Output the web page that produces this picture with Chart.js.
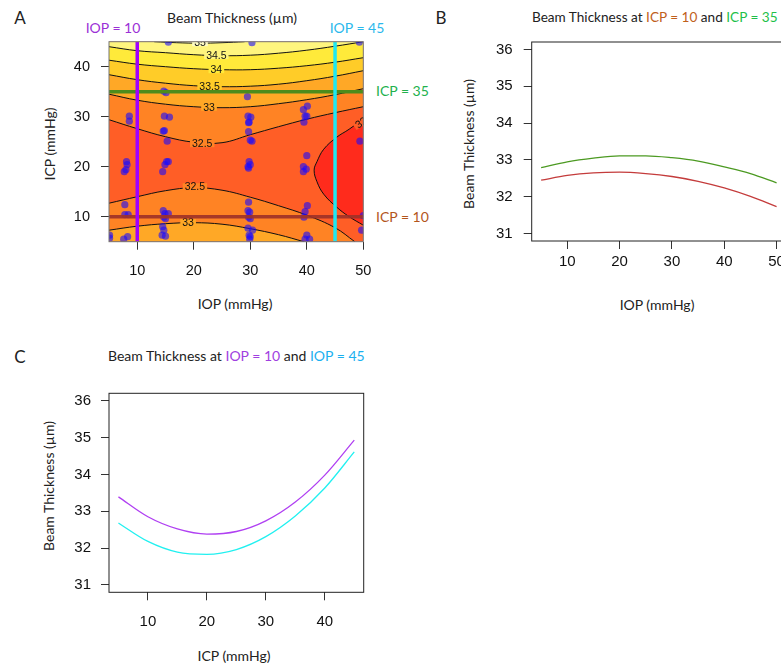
<!DOCTYPE html>
<html>
<head>
<meta charset="utf-8">
<script src="https://cdn.jsdelivr.net/npm/chart.js@4.4.0/dist/chart.umd.min.js"></script>
<style>
    html, body { margin: 0; padding: 0; background: #fff; overflow: hidden; width: 781px; height: 663px; }
    canvas { position: absolute; }
    .t { position: absolute; font-family: Lato, "Open Sans", sans-serif; font-size: 14px; color: #222; white-space: nowrap; transform: translate(-50%, -50%); }
    .l { transform: translate(0, -50%); }
    .v { transform: translate(-50%, -50%) rotate(-90deg); }
    .p { font-size: 17px; }
</style>
</head>
<body>
<!-- panel A -->
<div class="t p" style="left:20px;top:17px">A</div>
<div class="t" style="left:232px;top:17px">Beam Thickness (&micro;m)</div>
<div class="t" style="left:113px;top:27px;color:#9b30d6">IOP = 10</div>
<div class="t" style="left:357px;top:27px;color:#2ab8ec">IOP = 45</div>
<div class="t l" style="left:376px;top:90px;color:#22b14c">ICP = 35</div>
<div class="t l" style="left:376px;top:216px;color:#b3561c">ICP = 10</div>
<div class="t" style="left:235px;top:303px">IOP (mmHg)</div>
<div class="t v" style="left:49px;top:144px">ICP (mmHg)</div>
<canvas id="chartA" width="420" height="320" style="left:0;top:0"></canvas>

<!-- panel B -->
<div class="t p" style="left:441px;top:17px">B</div>
<div class="t l" style="left:532px;top:17px;font-size:13.6px">Beam Thickness at <span style="color:#c0601c">ICP = 10</span> and <span style="color:#1fbf4a">ICP = 35</span></div>
<div class="t" style="left:657px;top:304px">IOP (mmHg)</div>
<div class="t v" style="left:468px;top:144px">Beam Thickness (&micro;m)</div>
<canvas id="chartB" width="360" height="320" style="left:440px;top:0"></canvas>

<!-- panel C -->
<div class="t p" style="left:20px;top:356px">C</div>
<div class="t l" style="left:108px;top:355px">Beam Thickness at <span style="color:#a040e0">IOP = 10</span> and <span style="color:#1ab0f0">IOP = 45</span></div>
<div class="t" style="left:234px;top:655px">ICP (mmHg)</div>
<div class="t v" style="left:48px;top:486px">Beam Thickness (&micro;m)</div>
<canvas id="chartC" width="420" height="303" style="left:0;top:360px"></canvas>

<script>
// tick values
const iopTicks = [10, 20, 30, 40, 50];
const icpTicksA = [10, 20, 30, 40];
const icpTicksC = [10, 20, 30, 40];
const btTicks = [31, 32, 33, 34, 35, 36];

// panel B: beam thickness along IOP at two ICP levels
const iopGrid = [5, 10, 15, 20, 25, 30, 35, 40, 45, 50];
const btIcp10 = [32.45, 32.58, 32.65, 32.67, 32.63, 32.55, 32.42, 32.24, 32.01, 31.73];
const btIcp35 = [32.79, 32.95, 33.05, 33.11, 33.11, 33.06, 32.97, 32.81, 32.63, 32.38];

// panel C: beam thickness along ICP at two IOP levels
const icpGrid = [5, 10, 15, 20, 25, 30, 35, 40, 45];
const btIop10 = [33.39, 32.85, 32.52, 32.38, 32.45, 32.74, 33.25, 33.98, 34.93];
const btIop45 = [32.68, 32.18, 31.89, 31.83, 31.96, 32.31, 32.87, 33.63, 34.61];

// panel A contours: ICP where each level is crossed, at the iopGrid values
const c32_5up = [29.4, 27.6, 26.0, 24.9, 24.8, 26.4, 28.0, 29.5, 30.8, 32.0];
const c33up = [34.5, 33.3, 32.5, 32.0, 31.8, 32.0, 32.6, 33.4, 34.4, 35.6];
const c33_5 = [38.4, 37.4, 36.7, 36.2, 36.0, 36.1, 36.5, 37.2, 38.1, 39.2];
const c34 = [41.3, 40.5, 40.0, 39.6, 39.4, 39.4, 39.7, 40.2, 40.9, 41.8];
const c34_5 = [44.0, 43.2, 42.8, 42.4, 42.2, 42.3, 42.7, 43.3, 44.1, 45.0];
// contours given as [IOP, ICP] pairs
const c35 = [[13, 45], [17, 44.8], [21, 44.7], [25, 44.8], [29, 45]];
const c32_5lo = [[5, 12.7], [10, 14.0], [15, 15.2], [20, 15.8], [25, 15.3], [30, 13.9], [35, 12.2], [40, 10.3], [45, 7.8], [48.5, 5]];
const c33lo = [[5, 7.3], [10, 8.1], [15, 8.6], [20, 8.8], [25, 8.5], [30, 7.6], [35, 6.4], [39.5, 5]];
const c32 = [[50, 29.6], [47.5, 27.5], [45.3, 25.9], [43, 23.5], [41.8, 21], [41.3, 19.3], [41.8, 17], [43, 14.5], [45.3, 11.9], [47.5, 10], [50, 8.3]];
// contour labels [IOP, ICP, level]
const contourLabels = [[21.1, 44.8, 35], [24, 42.2, 34.5], [24, 39.4, 34], [22.8, 36.1, 33.5], [22.7, 31.9, 33],
    [21.5, 24.6, 32.5], [20.2, 16.0, 32.5], [19, 8.8, 33], [49.6, 28.8, 32]];

// observed eyes [IOP, ICP]
const obsPoints = [
    [15.5, 44.9], [30.3, 44.8], [49.3, 44.9],
    [14.7, 35.1], [15.1, 34.8], [29.5, 34.0],
    [8.6, 30.1], [8.6, 29.1], [14.8, 30.1], [15.7, 29.9], [29.6, 30.1], [30.1, 29.9], [29.8, 28.9],
    [39.4, 31.4], [40.1, 32.1], [39.7, 30.1], [40.0, 30.1], [39.5, 28.9],
    [14.6, 27.1], [14.8, 27.2], [15.3, 25.1], [29.7, 28.8], [29.7, 27.0], [30.3, 25.1], [30.0, 25.3], [49.4, 25.1],
    [8.1, 21.0], [8.2, 20.4], [8.0, 19.4], [7.7, 19.0],
    [15.2, 21.0], [15.5, 21.0], [14.9, 20.4], [14.5, 19.0],
    [29.8, 21.0], [30.0, 20.4], [29.6, 20.0], [29.7, 19.7],
    [40.0, 22.2], [39.4, 20.0], [39.9, 19.5], [39.4, 19.0],
    [7.8, 12.4], [7.8, 10.4], [8.4, 10.4],
    [14.6, 11.2], [14.9, 10.6], [15.5, 10.6], [14.7, 9.9], [15.0, 9.6],
    [29.7, 12.9], [29.6, 11.2], [29.9, 10.9], [29.7, 9.9], [30.0, 9.6],
    [40.1, 12.2], [39.7, 11.0], [39.5, 9.9], [50.0, 10.2],
    [14.5, 8.0], [14.7, 7.3], [14.4, 6.3], [15.0, 6.1],
    [29.6, 7.7], [30.4, 7.3], [29.8, 6.3], [30.0, 6.0], [29.9, 5.5],
    [40.0, 6.3], [39.7, 5.5], [40.5, 5.5], [49.7, 7.3],
    [5.1, 6.3], [5.1, 5.7], [8.3, 6.0], [7.6, 5.5]
];

// reference slices drawn on panel A
const refIop = [10, 45];
const refIcp = [35, 10];
const icpRange = [5, 45];
const iopRange = [5, 50];

const bandColors = {
    31.5: '#ff2b1c', 32: '#ff5e26', 32.5: '#ff8324', 33: '#ffa826',
    33.5: '#ffcc28', 34: '#ffea3a', 34.5: '#fff57e', 35: '#fffcc4'
};

const xy = (xs, ys) => xs.map((x, i) => ({x: x, y: ys[i]}));
const pairs = a => a.map(p => ({x: p[0], y: p[1]}));

function scale(min, max, ticks, size, pad, fontSize, horizontal) {
    return {
        type: 'linear', min: min, max: max,
        grid: { drawOnChartArea: false, tickLength: 8, tickColor: '#333', tickWidth: 1 },
        border: { display: false },
        ticks: { padding: pad, color: '#111', font: { family: 'Liberation Sans', size: fontSize } },
        afterBuildTicks: s => { s.ticks = ticks.map(v => ({ value: v })); },
        afterFit: s => {
            if (horizontal) s.height = size; else s.width = size;
            s.paddingLeft = s.paddingRight = s.paddingTop = s.paddingBottom = 0;
        }
    };
}

const frame = color => ({
    id: 'frame',
    afterDatasetsDraw(chart) {
        const {ctx, chartArea: a} = chart;
        ctx.save();
        ctx.strokeStyle = color;
        ctx.lineWidth = 1;
        ctx.strokeRect(a.left, a.top, a.width, a.height);
        ctx.restore();
    }
});

const baseOptions = (xs, ys, padding) => ({
    responsive: false, animation: false, events: [],
    devicePixelRatio: 1,
    layout: { padding: padding },
    plugins: { legend: { display: false }, tooltip: { enabled: false } },
    scales: { x: xs, y: ys }
});

// ---------- panel A ----------
function contour(data, fill, level, order) {
    return {
        data: data, fill: fill, backgroundColor: bandColors[level], borderColor: '#111',
        borderWidth: 1, pointRadius: 0, tension: 0.4, order: order
    };
}

const heatBase = {
    id: 'heatBase',
    beforeDatasetsDraw(chart) {
        const {ctx, chartArea: a} = chart;
        ctx.save();
        ctx.fillStyle = bandColors[32];
        ctx.fillRect(a.left, a.top, a.width, a.height);
        ctx.restore();
    }
};

const contourText = {
    id: 'contourText',
    beforeDatasetDraw(chart, args) {
        if (args.meta.label !== 'obs') return;
        const {ctx, chartArea: a, scales: {x, y}} = chart;
        ctx.save();
        ctx.beginPath();
        ctx.rect(a.left, a.top, a.width, a.height);
        ctx.clip();
        ctx.font = '10.5px "Liberation Sans"';
        ctx.textAlign = 'center';
        ctx.textBaseline = 'middle';
        contourLabels.forEach(([iop, icp, level]) => {
            const txt = String(level);
            const w = ctx.measureText(txt).width + 4;
            ctx.save();
            ctx.translate(x.getPixelForValue(iop), y.getPixelForValue(icp));
            if (level === 32) ctx.rotate(-0.6);
            ctx.fillStyle = bandColors[level];
            ctx.fillRect(-w / 2, -3.5, w, 7);
            ctx.fillStyle = '#111';
            ctx.fillText(txt, 0, 0.5);
            ctx.restore();
        });
        ctx.restore();
    }
};

new Chart(document.getElementById('chartA'), {
    type: 'line',
    data: {
        datasets: [
            contour(xy(iopGrid, c32_5up), 'end', 32.5, 20),
            contour(xy(iopGrid, c33up), 'end', 33, 19),
            contour(xy(iopGrid, c33_5), 'end', 33.5, 18),
            contour(xy(iopGrid, c34), 'end', 34, 17),
            contour(xy(iopGrid, c34_5), 'end', 34.5, 16),
            contour(pairs(c35), 'end', 35, 15),
            contour(pairs(c32_5lo), 'start', 32.5, 20),
            contour(pairs(c33lo), 'start', 33, 19),
            contour(pairs(c32), 'shape', 31.5, 20),
            {
                label: 'obs', data: pairs(obsPoints), showLine: false, pointRadius: 3.6,
                pointBackgroundColor: 'rgba(25,10,255,0.6)', pointBorderWidth: 0, order: 2
            },
            { data: xy(iopRange, [refIcp[0], refIcp[0]]), borderColor: '#4d8c1c', borderWidth: 3.5, pointRadius: 0, order: 1 },
            { data: xy(iopRange, [refIcp[1], refIcp[1]]), borderColor: 'rgba(160,50,40,0.92)', borderWidth: 3.5, pointRadius: 0, order: 1 },
            { data: xy([refIop[0], refIop[0]], icpRange), borderColor: '#a000ff', borderWidth: 3.5, pointRadius: 0, order: 0 },
            { data: xy([refIop[1], refIop[1]], icpRange), borderColor: '#1ee8f2', borderWidth: 3.5, pointRadius: 0, order: 0 }
        ]
    },
    options: baseOptions(
        scale(5, 50, iopTicks, 78.3, 13, 14.5, true),
        scale(5, 45, icpTicksA, 109, 11, 14.5, false),
        { left: 0, top: 41.7, right: 56.7, bottom: 0 }
    ),
    plugins: [heatBase, contourText, frame('#777')]
});

// ---------- panel B ----------
const curve = (data, color) => ({
    data: data, borderColor: color, borderWidth: 1.3, pointRadius: 0,
    cubicInterpolationMode: 'monotone', fill: false
});

new Chart(document.getElementById('chartB'), {
    type: 'line',
    data: {
        datasets: [
            curve(xy(iopGrid, btIcp35), '#4c9a22'),
            curve(xy(iopGrid, btIcp10), '#c43c3c')
        ]
    },
    options: baseOptions(
        scale(3.2, 51.8, iopTicks, 79, 3.5, 15, true),
        scale(30.8, 36.2, btTicks, 91.7, 11, 15, false),
        { left: 0, top: 42, right: 14, bottom: 0 }
    ),
    plugins: [frame('#222')]
});

// ---------- panel C ----------
new Chart(document.getElementById('chartC'), {
    type: 'line',
    data: {
        datasets: [
            curve(xy(icpGrid, btIop10), '#b040f2'),
            curve(xy(icpGrid, btIop45), '#22f0f0')
        ]
    },
    options: baseOptions(
        scale(3.4, 46.6, icpTicksC, 70.7, 12.5, 15, true),
        scale(30.8, 36.2, btTicks, 109, 10, 15, false),
        { left: 0, top: 33.3, right: 56.3, bottom: 0 }
    ),
    plugins: [frame('#222')]
});
</script>
</body>
</html>
